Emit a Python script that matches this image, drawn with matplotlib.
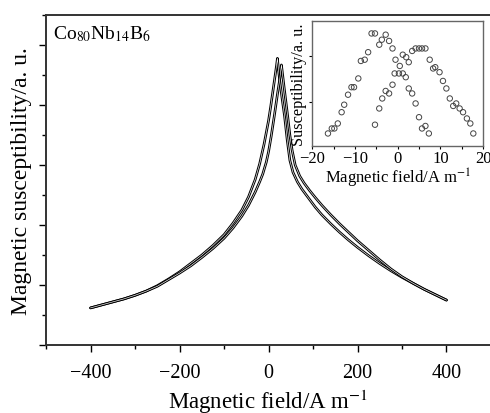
import matplotlib
matplotlib.use("Agg")
import matplotlib.pyplot as plt
from matplotlib.ticker import MultipleLocator, NullFormatter

plt.rcParams["font.family"] = ["Liberation Serif", "DejaVu Serif"]
plt.rcParams["mathtext.fontset"] = "stix"

# main loop: two sweep branches (field in A/m, susceptibility in a.u.)
field_a = [-400, -375, -350, -325, -300, -275, -250, -225, -200, -175, -150, -125,
           -100, -80, -60, -45, -30, -20, -10, 0, 5, 10, 15, 18, 20, 22, 25, 30, 36,
           42, 48, 55, 65, 75, 90, 105, 120, 140, 160, 180, 200, 225, 250, 275, 300,
           325, 350, 375, 400]
chi_a = [0.62, 0.67, 0.72, 0.77, 0.83, 0.90, 0.99, 1.10, 1.22, 1.36, 1.50, 1.66,
         1.84, 2.03, 2.25, 2.47, 2.76, 3.02, 3.35, 3.74, 3.98, 4.24, 4.50, 4.66, 4.78,
         4.62, 4.42, 4.14, 3.82, 3.42, 3.08, 2.88, 2.72, 2.60, 2.45, 2.30, 2.17, 2.02,
         1.88, 1.75, 1.63, 1.49, 1.36, 1.24, 1.13, 1.03, 0.93, 0.84, 0.75]

field_b = [-400, -375, -350, -325, -300, -275, -250, -225, -200, -175, -150, -125,
           -100, -80, -60, -45, -30, -20, -13, -5, 0, 6, 13, 20, 25, 29, 31, 35, 39,
           43, 48, 53, 60, 70, 80, 92, 105, 120, 140, 160, 180, 200, 225, 250, 275,
           300, 325, 350, 375, 400]
chi_b = [0.62, 0.67, 0.72, 0.77, 0.83, 0.90, 0.98, 1.09, 1.20, 1.32, 1.46, 1.61,
         1.78, 1.95, 2.15, 2.33, 2.55, 2.72, 2.85, 3.05, 3.22, 3.48, 3.82, 4.18, 4.42,
         4.67, 4.55, 4.30, 4.06, 3.82, 3.50, 3.25, 3.00, 2.82, 2.70, 2.58, 2.46, 2.33,
         2.17, 2.02, 1.88, 1.74, 1.58, 1.42, 1.27, 1.14, 1.03, 0.93, 0.84, 0.75]

# inset: low-field detail
inset_h1 = [-16.3, -15.4, -14.8, -14.0, -13.1, -12.5, -11.6, -10.8, -10.2, -9.2, -8.6,
            -7.7, -6.9, -6.1, -5.3, -4.3, -3.7, -2.8, -2.0, -1.2, -0.5, 0.5, 1.2, 1.9,
            2.6, 3.4, 4.2, 5.0, 5.7, 6.5, 7.3]
inset_s1 = [0.10, 0.14, 0.14, 0.18, 0.27, 0.33, 0.41, 0.47, 0.47, 0.54, 0.68, 0.69,
            0.75, 0.90, 0.90, 0.81, 0.85, 0.89, 0.84, 0.78, 0.69, 0.64, 0.58, 0.55,
            0.46, 0.42, 0.34, 0.23, 0.14, 0.16, 0.10]

inset_h2 = [-5.3, -4.3, -3.6, -2.8, -2.0, -1.2, -0.7, 0.3, 1.2, 2.0, 2.6, 3.4, 4.2,
            5.0, 5.7, 6.5, 7.5, 8.3, 8.8, 9.8, 10.6, 11.4, 12.2, 13.0, 13.7, 14.5,
            15.3, 16.2, 17.0, 17.7]
inset_s2 = [0.17, 0.30, 0.38, 0.44, 0.42, 0.49, 0.58, 0.58, 0.73, 0.71, 0.67, 0.76,
            0.78, 0.78, 0.78, 0.78, 0.69, 0.62, 0.63, 0.59, 0.52, 0.46, 0.38, 0.32,
            0.34, 0.30, 0.27, 0.22, 0.18, 0.10]

fig = plt.figure(figsize=(4.9, 4.14), dpi=100)
ax = fig.add_axes([0.094, 0.164, 0.908, 0.797])

for h, c in [(field_a, chi_a), (field_b, chi_b)]:
    ax.plot(h, c, color="black", lw=1.9, solid_capstyle="round", solid_joinstyle="round")
    ax.plot(h, c, color="white", lw=0.45, solid_joinstyle="round")

ax.set_xlim(-500, 500)
ax.set_ylim(0, 5.5)
ax.xaxis.set_major_locator(MultipleLocator(200))
ax.xaxis.set_minor_locator(MultipleLocator(100))
ax.yaxis.set_major_locator(MultipleLocator(1))
ax.yaxis.set_minor_locator(MultipleLocator(0.5))
ax.yaxis.set_major_formatter(NullFormatter())
ax.set_xticks([-400, -200, 0, 200, 400])
ax.tick_params(which="major", direction="out", length=5, width=1, labelsize=14.5, pad=8)
ax.tick_params(which="minor", direction="out", length=3, width=1)
for s in ax.spines.values():
    s.set_linewidth(1.4)
    s.set_color("#333333")

ax.set_xlabel(r"Magnetic field/A m$^{-1}$", fontsize=16.5, labelpad=3)
ax.set_ylabel("Magnetic susceptibility/a. u.", fontsize=17)
ax.yaxis.set_label_coords(-0.032, 0.5)
ax.text(0.016, 0.975, r"Co$_{80}$Nb$_{14}$B$_6$", transform=ax.transAxes,
        fontsize=14, va="top", ha="left")

# inset
ins = fig.add_axes([0.637, 0.645, 0.349, 0.302])
ins.scatter(inset_h1, inset_s1, s=15, facecolors="none", edgecolors="#444444", linewidths=0.7)
ins.scatter(inset_h2, inset_s2, s=15, facecolors="none", edgecolors="#444444", linewidths=0.7)
ins.set_xlim(-20, 20)
ins.set_ylim(0, 1)
ins.xaxis.set_major_locator(MultipleLocator(10))
ins.xaxis.set_minor_locator(MultipleLocator(5))
ins.set_yticks([0.35, 0.72])
ins.yaxis.set_major_formatter(NullFormatter())
ins.tick_params(which="both", direction="out", length=2, width=0.8, labelsize=12, pad=1)
for s in ins.spines.values():
    s.set_linewidth(1.0)
    s.set_color("#666666")
ins.set_xlabel(r"Magnetic field/A m$^{-1}$", fontsize=12, labelpad=0)
ins.set_ylabel("Susceptibility/a. u.", fontsize=11.8, labelpad=1)

fig.savefig("out.png", dpi=100)
